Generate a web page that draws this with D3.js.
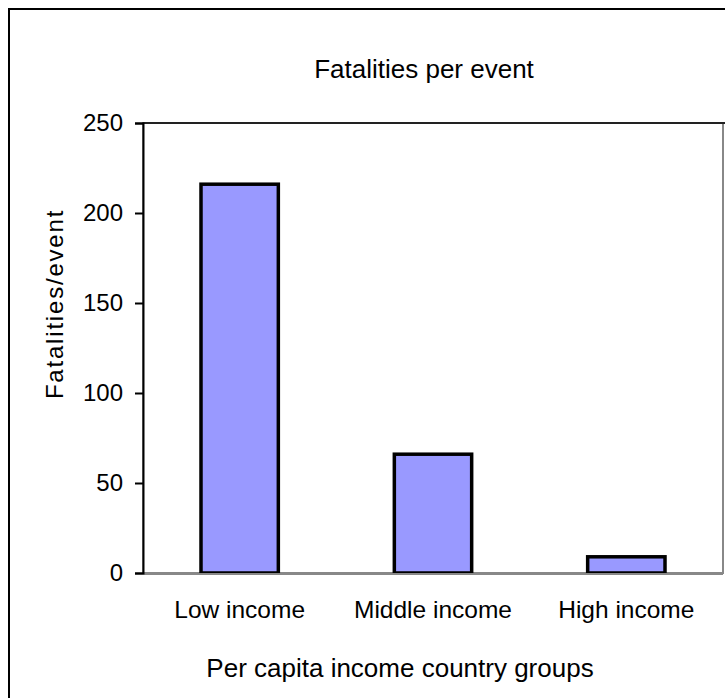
<!DOCTYPE html>
<html>
<head>
<meta charset="utf-8">
<script src="https://cdn.jsdelivr.net/npm/d3@7/dist/d3.min.js"></script>
<style>
  html, body { margin: 0; padding: 0; background: #fff; }
  svg { display: block; }
  text { font-family: "Liberation Sans", Arial, sans-serif; fill: #000; }
</style>
</head>
<body>
<svg id="chart" width="725" height="698"></svg>
<script>
const categories = ["Low income", "Middle income", "High income"];
const values = [216, 66, 9];
const yTicks = [0, 50, 100, 150, 200, 250];
const chartTitle = "Fatalities per event";
const xTitle = "Per capita income country groups";
const yTitle = "Fatalities/event";

const svg = d3.select("#chart");
const plot = { left: 143, right: 723, top: 123, bottom: 573 };

// outer frame (extends beyond the visible window)
svg.append("rect")
  .attr("x", 9).attr("y", 9).attr("width", 900).attr("height", 900)
  .attr("fill", "#fff").attr("stroke", "#000").attr("stroke-width", 2);

const x = d3.scaleBand()
  .domain(categories)
  .range([plot.left, plot.right])
  .paddingInner(0.6)
  .paddingOuter(0.3);

const y = d3.scaleLinear()
  .domain([0, 250])
  .range([plot.bottom, plot.top]);

// plot area border
svg.append("rect")
  .attr("x", plot.left).attr("y", plot.top)
  .attr("width", plot.right - plot.left).attr("height", plot.bottom - plot.top)
  .attr("fill", "none").attr("stroke", "#888").attr("stroke-width", 2);
svg.append("line")
  .attr("x1", plot.left).attr("x2", plot.right + 2)
  .attr("y1", plot.top).attr("y2", plot.top)
  .attr("stroke", "#222").attr("stroke-width", 2);

// bars
svg.append("g").selectAll("rect")
  .data(values)
  .join("rect")
  .attr("x", (d, i) => x(categories[i]))
  .attr("width", x.bandwidth())
  .attr("y", d => y(d))
  .attr("height", d => y(0) - y(d))
  .attr("fill", "#9999ff")
  .attr("stroke", "#000")
  .attr("stroke-width", 3.5);

// x baseline
svg.append("line")
  .attr("x1", plot.left).attr("x2", plot.right)
  .attr("y1", y(0) + 1).attr("y2", y(0) + 1)
  .attr("stroke", "#888").attr("stroke-width", 2);

// y axis
const yAxis = svg.append("g")
  .attr("transform", `translate(${plot.left},0)`)
  .call(d3.axisLeft(y).tickValues(yTicks).tickSize(8).tickPadding(12).tickFormat(d3.format("d")));
yAxis.select(".domain").attr("stroke", "#000").attr("stroke-width", 2);
yAxis.selectAll(".tick line").attr("stroke", "#000").attr("stroke-width", 2);
yAxis.selectAll(".tick text")
  .style("font-family", "'Liberation Sans', Arial, sans-serif")
  .style("font-size", "24px").attr("fill", "#000");

// category labels
svg.append("g").selectAll("text")
  .data(categories)
  .join("text")
  .attr("x", d => x(d) + x.bandwidth() / 2)
  .attr("y", 618)
  .attr("text-anchor", "middle")
  .style("font-size", "24.5px")
  .text(d => d);

// titles
svg.append("text")
  .attr("x", 424).attr("y", 78)
  .attr("text-anchor", "middle")
  .style("font-size", "26px")
  .text(chartTitle);

svg.append("text")
  .attr("x", 400).attr("y", 677)
  .attr("text-anchor", "middle")
  .style("font-size", "26px")
  .text(xTitle);

svg.append("text")
  .attr("transform", "translate(63,304) rotate(-90)")
  .attr("text-anchor", "middle")
  .style("font-size", "24px")
  .style("letter-spacing", "1.8px")
  .text(yTitle);
</script>
</body>
</html>
